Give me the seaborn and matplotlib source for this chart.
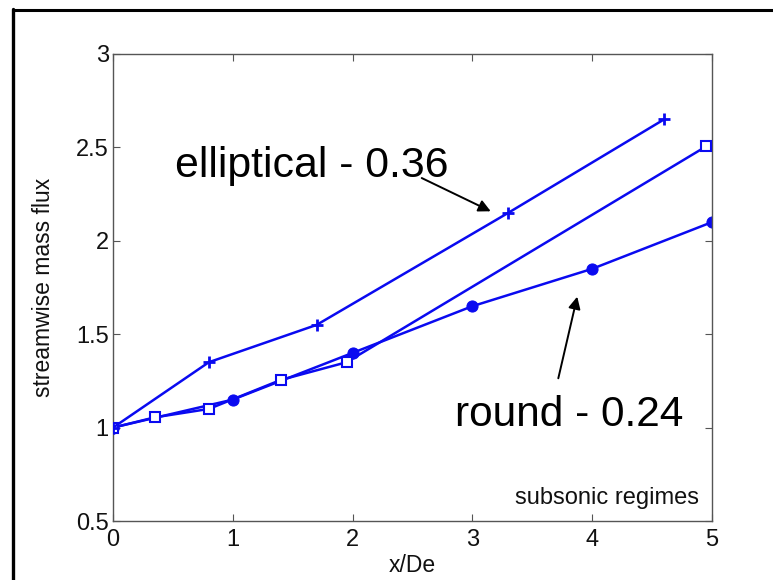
import matplotlib
matplotlib.use("Agg")
import matplotlib.pyplot as plt
from matplotlib.lines import Line2D
import seaborn as sns
import pandas as pd

# streamwise mass flux versus axial distance for the three nozzle shapes
x_elliptical = [0.0, 0.8, 1.7, 3.3, 4.6]
flux_elliptical = [1.0, 1.35, 1.55, 2.15, 2.65]

x_square = [0.0, 0.35, 0.8, 1.4, 1.95, 4.95]
flux_square = [1.0, 1.055, 1.10, 1.255, 1.35, 2.505]

x_round = [0.0, 1.0, 2.0, 3.0, 4.0, 5.0]
flux_round = [1.0, 1.15, 1.40, 1.65, 1.85, 2.10]

x_ticks = [0, 1, 2, 3, 4, 5]
y_ticks = [0.5, 1, 1.5, 2, 2.5, 3]
y_tick_labels = ["0.5", "1", "1.5", "2", "2.5", "3"]

sns.set_style("ticks")
plt.rcParams["font.family"] = ["Liberation Sans", "DejaVu Sans"]

BLUE = "#0a0af0"

fig = plt.figure(figsize=(7.73, 5.80), dpi=100)
fig.patch.set_facecolor("white")
ax = fig.add_axes([0.1462, 0.1017, 0.7749, 0.8052])
ax.set_facecolor("white")

df_ell = pd.DataFrame({"x": x_elliptical, "flux": flux_elliptical})
df_sq = pd.DataFrame({"x": x_square, "flux": flux_square})
df_rd = pd.DataFrame({"x": x_round, "flux": flux_round})

line_kw = dict(color=BLUE, linewidth=1.8, ax=ax, legend=False)
# round first, open squares over it, plus signs on top
sns.lineplot(data=df_rd, x="x", y="flux", marker="o", markersize=8,
             markerfacecolor=BLUE, markeredgecolor=BLUE, zorder=2, **line_kw)
sns.lineplot(data=df_sq, x="x", y="flux", marker="s", markersize=7.2,
             markerfacecolor="white", markeredgecolor=BLUE,
             markeredgewidth=1.5, zorder=3, **line_kw)
sns.lineplot(data=df_ell, x="x", y="flux", marker="+", markersize=8,
             markeredgewidth=2.0, markeredgecolor=BLUE, zorder=4, **line_kw)

ax.set_xlim(0, 5)
ax.set_ylim(0.5, 3)
ax.set_xticks(x_ticks)
ax.set_xticklabels([str(t) for t in x_ticks])
ax.set_yticks(y_ticks)
ax.set_yticklabels(y_tick_labels)

for side in ["left", "right", "top", "bottom"]:
    ax.spines[side].set_visible(True)
    ax.spines[side].set_color("#555555")
    ax.spines[side].set_linewidth(1.0)
ax.tick_params(direction="in", length=5, width=0.8, color="#555555",
               top=True, right=True, labelsize=17, labelcolor="#111111")
ax.tick_params(axis="y", pad=3)
ax.tick_params(axis="x", pad=6)

ax.set_xlabel("x/De", fontsize=16.5, color="#111111", labelpad=2)
ax.set_ylabel("streamwise mass flux", fontsize=16.5, color="#111111",
              labelpad=15)

ax.text(0.517, 2.342, "elliptical - 0.36", fontsize=30.8, color="black",
        ha="left", va="baseline")
ax.text(2.855, 1.009, "round - 0.24", fontsize=30.5, color="black",
        ha="left", va="baseline")
ax.text(4.89, 0.591, "subsonic regimes", fontsize=17, color="#111111",
        ha="right", va="baseline")

arrow_kw = dict(arrowstyle="-|>", color="black", lw=1.4,
                mutation_scale=18, shrinkA=0, shrinkB=0)
ax.annotate("", xy=(3.153, 2.158), xytext=(2.577, 2.336), arrowprops=arrow_kw)
ax.annotate("", xy=(3.875, 1.701), xytext=(3.717, 1.264), arrowprops=arrow_kw)

# outer frame lines along the top and left edges of the figure
fig.add_artist(Line2D([12.5 / 773, 1.0], [1 - 10 / 580, 1 - 10 / 580],
                      transform=fig.transFigure, color="black", linewidth=2.2))
fig.add_artist(Line2D([13 / 773, 13 / 773], [0.0, 1 - 9 / 580],
                      transform=fig.transFigure, color="black", linewidth=2.4))

fig.savefig("out.png", dpi=100, facecolor="white")
